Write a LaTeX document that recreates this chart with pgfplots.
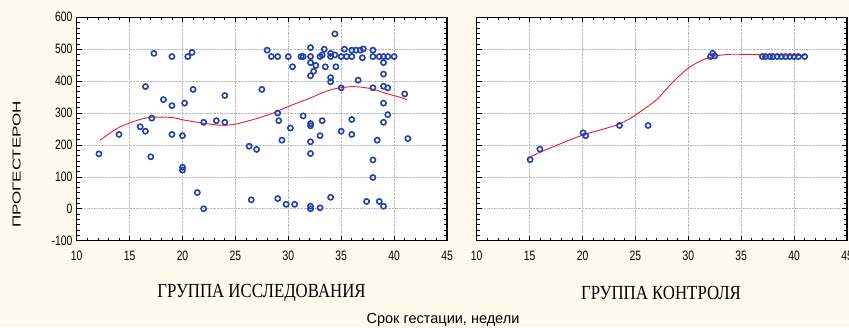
\documentclass[border=0pt]{standalone}
\usepackage{pgfplots}
\pgfplotsset{compat=1.18}
\usepackage{fontspec}
\setmainfont{Liberation Sans}
\newfontfamily\serifru{Liberation Serif}
\definecolor{bgcream}{RGB}{254,250,238}
\definecolor{mkblue}{RGB}{35,65,170}
\definecolor{fitred}{RGB}{240,30,40}
\definecolor{gridgray}{RGB}{185,185,185}
\pgfplotsset{
  panel/.style={
    scale only axis, width=370.3pt, height=223.4pt,
    xmin=10, xmax=45, ymin=-100, ymax=600,
    xtick={10,15,...,45}, ytick={-100,0,...,600},
    minor x tick num=4, minor y tick num=5,
    tick align=inside, major tick length=5pt, minor tick length=3pt,
    tick style={black, line width=0.7pt},
    grid=major, major grid style={densely dotted, gridgray, line width=0.6pt},
    axis line style={line width=1.3pt},
    axis background/.style={fill=white},
    ticklabel style={font=\fontsize{13.6}{13.6}\selectfont, xscale=0.76},
    xticklabel style={yshift=-7pt},
    yticklabel style={xshift=-2pt},
    /pgf/number format/assume math mode=true,
    clip=false,
  },
  pts/.style={only marks, mark=o, mark size=2.6pt, mark options={mkblue, line width=1.6pt}},
  fit/.style={fitred, line width=0.9pt, smooth, no marks},
}
\begin{document}
\begin{tikzpicture}
\fill[bgcream] (0pt,0pt) rectangle (849pt,327pt);
\path[use as bounding box] (0pt,0pt) rectangle (849pt,327pt);
\begin{axis}[panel, at={(76.7pt,86.3pt)}, anchor=south west]
\addplot[pts] table {
12.1 172
14.0 233
16.0 257
16.5 383
16.5 243
17.0 163
17.1 284
17.3 487
18.2 342
19.0 323
19.0 477
19.0 233
20.0 229
20.0 130
20.0 121
20.2 331
20.5 477
20.9 490
21.0 374
21.4 51
22.0 0
22.0 271
23.2 276
24.0 271
24.0 355
26.3 196
26.5 28
27.0 186
27.5 374
28.0 497
28.4 477
29.0 477
29.0 300
29.1 276
29.0 32
29.4 215
29.8 14
30.0 477
30.2 253
30.4 445
30.6 14
31.2 477
31.4 477
31.4 291
32.1 505
32.1 477
32.1 458
32.1 417
32.1 267
32.1 260
32.1 210
32.1 173
32.1 8
32.1 0
32.4 431
32.6 449
33.0 477
33.2 482
33.4 500
33.0 229
33.2 276
33.0 3
33.5 445
34.0 477
34.0 487
34.0 411
34.0 398
34.0 36
34.4 548
34.4 482
34.5 445
35.0 477
35.0 379
35.0 243
35.3 500
35.5 477
36.0 497
36.0 477
36.0 280
36.0 233
36.4 497
36.6 403
36.8 497
37.0 473
37.1 501
37.4 23
38.0 497
38.0 477
38.0 379
38.0 153
38.0 98
38.4 215
38.6 477
38.6 23
39.0 477
39.0 458
39.0 422
39.0 384
39.0 331
39.0 271
39.0 8
39.4 477
39.4 379
39.4 295
40.0 477
41.0 360
41.3 220
};
\addplot[fit] coordinates {
(12.2,215) (14,255) (16,280) (17.2,287) (19,286) (20,279) (22,268) (23.5,262)
(24.8,264) (26.3,276) (27.9,292) (29,306) (30.4,326) (32,346) (33.4,366)
(34.5,377) (36,383) (36.7,382) (38,375) (39.2,362) (40.5,350) (41.2,342)
};
\end{axis}
\begin{axis}[panel, at={(476.7pt,86.3pt)}, anchor=south west, yticklabels={}]
\addplot[pts] table {
15.05 154
15.97 187
20.05 238
20.3 229
23.5 261
26.2 261
32.1 477
32.3 487
32.5 479
37.0 477
37.3 477
37.7 477
38.0 477
38.4 477
38.8 477
39.2 477
39.6 477
40.0 477
40.4 477
41.0 477
};
\addplot[fit] coordinates {
(15,162) (16,177) (18,205) (20.1,232) (22,250) (23.5,266) (24.7,287) (25.7,310) (27,342)
(28.6,399) (30,441) (31.4,467) (32.6,479) (33.9,484) (35,484) (38,482) (41,480)
};
\end{axis}
\node[inner sep=0pt] at (16.7pt,162.5pt) {\rotatebox{90}{\scalebox{1}[0.68]{\fontsize{17}{17}\selectfont ПРОГЕСТЕРОН}}};
\node[font=\serifru\fontsize{20}{20}\selectfont, xscale=0.84] at (261.5pt,34pt) {ГРУППА ИССЛЕДОВАНИЯ};
\node[font=\serifru\fontsize{20}{20}\selectfont, xscale=0.84] at (661pt,34pt) {ГРУППА КОНТРОЛЯ};
\node[font=\fontsize{14.5}{14.5}\selectfont] at (443pt,7pt) {Срок гестации, недели};
\end{tikzpicture}
\end{document}
